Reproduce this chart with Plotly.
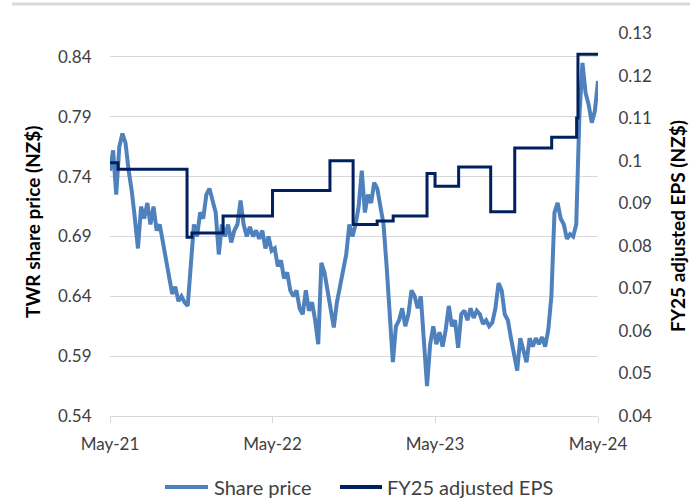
import pandas as pd
import plotly.graph_objects as go

# Share price (NZ$), roughly weekly from May-21 to May-24
price_start = "2021-05-01"
price_end = "2024-05-01"
share_price = [
    0.745, 0.762, 0.725, 0.765, 0.776, 0.768, 0.745, 0.728, 0.705, 0.68,
    0.715, 0.705, 0.718, 0.70, 0.715, 0.695, 0.70, 0.685, 0.672, 0.655,
    0.642, 0.648, 0.636, 0.64, 0.635, 0.632, 0.67, 0.70, 0.69, 0.71,
    0.705, 0.725, 0.73, 0.72, 0.71, 0.675, 0.70, 0.69, 0.70, 0.685,
    0.695, 0.70, 0.72, 0.70, 0.69, 0.698, 0.69, 0.695, 0.688, 0.695,
    0.68, 0.69, 0.678, 0.68, 0.665, 0.67, 0.655, 0.66, 0.645, 0.64,
    0.645, 0.63, 0.625, 0.645, 0.628, 0.635, 0.62, 0.60, 0.668, 0.66,
    0.645, 0.63, 0.614, 0.635, 0.648, 0.66, 0.675, 0.70, 0.69, 0.70,
    0.715, 0.745, 0.71, 0.725, 0.718, 0.735, 0.73, 0.715, 0.70, 0.665,
    0.625, 0.585, 0.615, 0.62, 0.63, 0.615, 0.625, 0.645, 0.64, 0.63,
    0.64, 0.605, 0.565, 0.60, 0.615, 0.60, 0.61, 0.598, 0.612, 0.632,
    0.615, 0.62, 0.597, 0.625, 0.628, 0.62, 0.63, 0.622, 0.628, 0.625,
    0.617, 0.62, 0.615, 0.618, 0.63, 0.651, 0.645, 0.625, 0.62, 0.605,
    0.59, 0.578, 0.605, 0.595, 0.585, 0.605, 0.598, 0.605, 0.60, 0.606,
    0.598, 0.612, 0.64, 0.71, 0.718, 0.705, 0.70, 0.688, 0.692, 0.69,
    0.70, 0.79, 0.835, 0.81, 0.80, 0.785, 0.795, 0.82,
]
price_dates = pd.date_range(price_start, price_end, periods=len(share_price))

# FY25 adjusted EPS (NZ$), step changes
eps_dates = [
    "2021-05-01", "2021-05-19", "2021-10-21", "2021-11-01", "2022-01-10",
    "2022-05-01", "2022-09-07", "2022-10-29", "2022-12-22", "2023-01-27",
    "2023-04-13", "2023-05-01", "2023-06-23", "2023-09-03", "2023-10-27",
    "2024-01-18", "2024-03-14", "2024-03-17", "2024-05-01",
]
eps_values = [
    0.0995, 0.098, 0.082, 0.083, 0.087,
    0.093, 0.100, 0.085, 0.0858, 0.087,
    0.097, 0.094, 0.0985, 0.088, 0.103,
    0.1055, 0.110, 0.125, 0.125,
]

series_names = ["Share price", "FY25 adjusted EPS"]
series_colors = ["#4f81bd", "#002060"]
x_tick_labels = ["May-21", "May-22", "May-23", "May-24"]
x_tick_vals = ["2021-05-01", "2022-05-01", "2023-05-01", "2024-05-01"]
left_ticks = [0.54, 0.59, 0.64, 0.69, 0.74, 0.79, 0.84]
right_ticks = [0.04, 0.05, 0.06, 0.07, 0.08, 0.09, 0.10, 0.11, 0.12, 0.13]
right_tick_labels = ["0.04", "0.05", "0.06", "0.07", "0.08", "0.09", "0.1", "0.11", "0.12", "0.13"]

FONT = "Lato"
TXT = "#404040"
W, H = 693, 498
L, R, T, B = 110, 95, 33, 82
PW, PH = W - L - R, H - T - B


def px(xp):
    return (xp - L) / PW


def py(yp):
    return (H - B - yp) / PH


fig = go.Figure()
fig.add_trace(go.Scatter(
    x=price_dates, y=share_price, name=series_names[0], mode="lines",
    line=dict(color=series_colors[0], width=4), yaxis="y",
))
fig.add_trace(go.Scatter(
    x=eps_dates, y=eps_values, name=series_names[1], mode="lines",
    line=dict(color=series_colors[1], width=3, shape="hv"), yaxis="y2",
))

fig.update_layout(
    width=W, height=H,
    margin=dict(l=L, r=R, t=T, b=B, autoexpand=False),
    paper_bgcolor="white", plot_bgcolor="white",
    font=dict(family=FONT, size=17, color=TXT),
    showlegend=False,
    xaxis=dict(
        type="date", range=["2021-05-01", "2024-05-01"],
        tickvals=x_tick_vals, ticktext=x_tick_labels,
        showgrid=False, zeroline=False,
        showline=True, linecolor="#d9d9d9", linewidth=1,
        ticks="outside", ticklen=6, tickcolor="#d9d9d9",
        ticklabelstandoff=7,
        tickfont=dict(family=FONT, size=17, color=TXT),
    ),
    yaxis=dict(
        range=[0.54, 0.86], tickvals=left_ticks,
        ticktext=[f"{v:.2f}" for v in left_ticks],
        showgrid=True, gridcolor="#d9d9d9", gridwidth=1, zeroline=False,
        ticks="outside", ticklen=14, tickcolor="rgba(0,0,0,0)",
        tickfont=dict(family=FONT, size=17, color=TXT),
    ),
    yaxis2=dict(
        range=[0.04, 0.13], tickvals=right_ticks, ticktext=right_tick_labels,
        overlaying="y", side="right", showgrid=False, zeroline=False,
        ticks="outside", ticklen=16, tickcolor="rgba(0,0,0,0)",
        tickfont=dict(family=FONT, size=17, color=TXT),
    ),
)

fig.add_annotation(text="<b>TWR share price (NZ$)</b>", xref="paper", yref="paper",
                   x=px(32), xanchor="center", y=py(222), yanchor="middle",
                   textangle=-90, showarrow=False,
                   font=dict(family=FONT, size=19, color="#000000"))
fig.add_annotation(text="<b>FY25 adjusted EPS (NZ$)</b>", xref="paper", yref="paper",
                   x=px(677), xanchor="center", y=py(226), yanchor="middle",
                   textangle=-90, showarrow=False,
                   font=dict(family=FONT, size=19, color="#000000"))

# legend drawn manually (line sample + label) below the chart
legend_items = [(165, 208, 212), (340, 382, 385)]
for (lx0, lx1, tx), name, col in zip(legend_items, series_names, series_colors):
    fig.add_shape(type="line", xref="paper", yref="paper",
                  x0=px(lx0), x1=px(lx1), y0=py(487), y1=py(487),
                  line=dict(color=col, width=4))
    fig.add_annotation(text=name, xref="paper", yref="paper",
                       x=px(tx), xanchor="left", y=py(487), yanchor="middle",
                       showarrow=False, font=dict(family=FONT, size=20, color=TXT))

# light frame line at top of the chart
fig.add_shape(type="line", xref="paper", yref="paper",
              x0=px(12), x1=px(690), y0=py(4), y1=py(4),
              line=dict(color="#d9d9d9", width=3))

fig.write_html("out.html")
